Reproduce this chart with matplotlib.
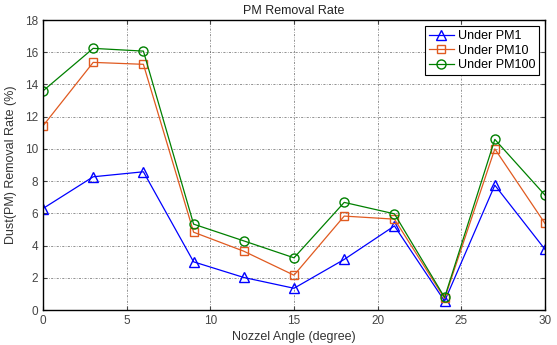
import numpy as np
import matplotlib
matplotlib.use("Agg")
import matplotlib.pyplot as plt

plt.rcParams['font.family'] = ['Liberation Sans', 'DejaVu Sans']

# Datos
angles = [0, 3, 6, 9, 12, 15, 18, 21, 24, 27, 30]
pm1 = [6.3, 8.27, 8.58, 2.99, 2.02, 1.35, 3.14, 5.22, 0.55, 7.75, 3.76]
pm10 = [11.43, 15.37, 15.25, 4.83, 3.65, 2.16, 5.83, 5.64, 0.72, 10.0, 5.37]
pm100 = [13.6, 16.24, 16.07, 5.33, 4.29, 3.24, 6.68, 5.97, 0.78, 10.59, 7.13]

fig = plt.figure(figsize=(5.57, 3.45), dpi=100)
ax = fig.add_axes([0.0772, 0.1014, 0.9013, 0.8406])

ax.plot(angles, pm1, color='#0000ff', marker='^', mfc='none', ms=7, lw=0.9, label='Under PM1')
ax.plot(angles, pm10, color='#e05a20', marker='s', mfc='none', ms=5.5, lw=0.9, label='Under PM10')
ax.plot(angles, pm100, color='#008000', marker='o', mfc='none', ms=6.5, lw=0.9, label='Under PM100')

ax.set_xlim(0, 30)
ax.set_ylim(0, 18)
ax.set_xticks(np.arange(0, 31, 5))
ax.set_yticks(np.arange(0, 19, 2))
ax.grid(True, color='black', linestyle=(0, (1, 2, 3, 2)), linewidth=0.5, alpha=0.6)
ax.tick_params(direction='in', top=True, right=True, labelsize=8.5, colors='#444444', length=3)
for s in ax.spines.values():
    s.set_linewidth(1.0)

ax.set_title('PM Removal Rate', fontsize=9, color='#222222', pad=4)
ax.set_xlabel('Nozzel Angle (degree)', fontsize=9, color='#333333', labelpad=3)
ax.set_ylabel('Dust(PM) Removal Rate (%)', fontsize=9, color='#333333', labelpad=6)

leg = ax.legend(loc='upper right', fontsize=9, fancybox=False, edgecolor='black',
                framealpha=1, borderpad=0.3, labelspacing=0.2, handlelength=2.0,
                handletextpad=0.3, borderaxespad=0.5)
leg.get_frame().set_linewidth(0.8)

fig.savefig('out.png', dpi=100)
